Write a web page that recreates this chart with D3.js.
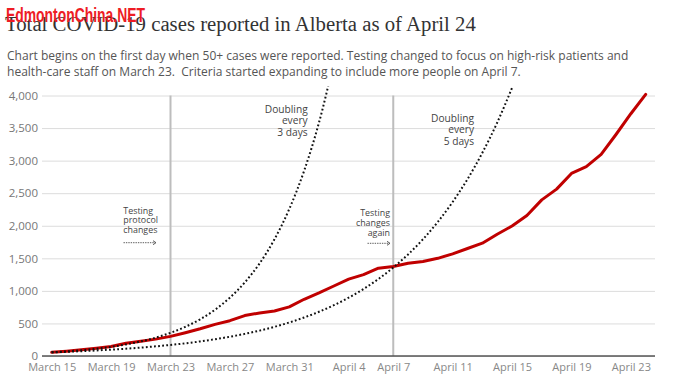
<!DOCTYPE html>
<html><head><meta charset="utf-8">
<script src="https://cdn.jsdelivr.net/npm/d3@7"></script>
<style>body{margin:0;background:#fff}svg{display:block}</style>
</head><body>
<svg id="c" width="673" height="392"></svg>
<script>
// ---- data ----
const startDate = "2020-03-15";
const endDate = "2020-04-24";
const cases = [56,74,97,119,146,195,226,259,301,358,419,486,542,621,661,690,754,
  871,968,1075,1181,1250,1348,1373,1423,1451,1500,1569,1651,1732,1870,1996,2158,2397,2562,2803,2908,3095,3401,3720,4017];
const double3 = [56,71,89,112,141,178,224,282,356,448,564,711,896,1129,1422,1792,2258,2845,3584,4516];
const double5 = [56,64,74,85,98,112,129,148,170,195,224,257,296,340,390,448,515,591,679,780,896,1029,1182,1358,1560,1792,2059,2365,2716,3120,3584,4117];
const yTicks = [0,500,1000,1500,2000,2500,3000,3500,4000];
const xTickDates = ["2020-03-15","2020-03-19","2020-03-23","2020-03-27","2020-03-31","2020-04-04","2020-04-07","2020-04-11","2020-04-15","2020-04-19","2020-04-23"];
const xTickLabels = ["March 15","March 19","March 23","March 27","March 31","April 4","April 7","April 11","April 15","April 19","April 23"];
const markerDates = ["2020-03-23","2020-04-07"];
const titleText = "Total COVID-19 cases reported in Alberta as of April 24";
const subtitleLines = ["Chart begins on the first day when 50+ cases were reported. Testing changed to focus on high-risk patients and",
  "health-care staff on March 23.  Criteria started expanding to include more people on April 7."];
const watermark = "EdmontonChina.NET";

// ---- setup ----
const parse = d3.utcParse("%Y-%m-%d");
const t0 = parse(startDate);
const day = i => d3.utcDay.offset(t0, i);
const svg = d3.select("#c");
const sans = "'Open Sans', 'Noto Sans', sans-serif";

const x = d3.scaleUtc().domain([t0, parse(endDate)]).range([51.7, 645.7]);
const y = d3.scaleLinear().domain([0, 4000]).range([356, 95.5]);
const gridX0 = 42, gridX1 = 655;

// title
const title = svg.append("text").attr("x", 5).attr("y", 31)
  .attr("font-family", "'Liberation Serif', 'DejaVu Serif', serif")
  .attr("font-size", 24).attr("fill", "#333").text(titleText);
let tw = title.node().getComputedTextLength();
title.attr("font-size", 24 * 471 / tw);

// watermark
svg.append("text").attr("x", 6).attr("y", 22)
  .attr("font-family", "'Liberation Sans Narrow', 'Liberation Sans', Arial, sans-serif")
  .attr("font-weight", "bold").attr("font-size", 21).attr("fill", "#ee1c25")
  .attr("textLength", 139).attr("lengthAdjust", "spacingAndGlyphs")
  .text(watermark);

// subtitle (keep the double space visible)
const keepSpaces = s => s.replace(/  /g, " \u00a0");
const sub = svg.append("g").attr("font-family", sans).attr("fill", "#555");
const s1 = sub.append("text").attr("x", 7).attr("y", 60).attr("font-size", 12.5).text(keepSpaces(subtitleLines[0]));
const sw = s1.node().getComputedTextLength();
const subSize = 12.5 * 622 / sw;
s1.attr("font-size", subSize);
sub.append("text").attr("x", 7).attr("y", 75.5).attr("font-size", subSize).text(keepSpaces(subtitleLines[1]));

// y grid + labels
const yAxis = svg.append("g").attr("transform", `translate(${gridX0},0)`)
  .call(d3.axisLeft(y).tickValues(yTicks).tickFormat(d3.format(",")).tickSize(-(gridX1 - gridX0)).tickPadding(4));
yAxis.select(".domain").remove();
yAxis.selectAll(".tick line").attr("stroke", "#dcdcdc").attr("stroke-width", 1);
yAxis.selectAll(".tick text").attr("fill", "#777").attr("font-family", sans).attr("font-size", 11.5);

// vertical marker lines
svg.append("g").selectAll("line").data(markerDates).join("line")
  .attr("x1", d => x(parse(d))).attr("x2", d => x(parse(d)))
  .attr("y1", y(0)).attr("y2", y(4000))
  .attr("stroke", "#bdbdbd").attr("stroke-width", 2);

// x axis
const xAxis = svg.append("g").attr("transform", `translate(0,${y(0)})`)
  .call(d3.axisBottom(x).tickValues(xTickDates.map(parse)).tickFormat((d, i) => xTickLabels[i]).tickSize(0).tickPadding(7.5));
xAxis.select(".domain").remove();
xAxis.selectAll(".tick text").attr("fill", "#888").attr("font-family", sans).attr("font-size", 11);
svg.append("line").attr("x1", gridX0).attr("x2", gridX1).attr("y1", y(0)).attr("y2", y(0))
  .attr("stroke", "#555").attr("stroke-width", 1.5);

// clip for doubling curves
svg.append("defs").append("clipPath").attr("id", "clipTop")
  .append("rect").attr("x", 0).attr("y", 86.5).attr("width", 673).attr("height", 300);

const smooth = d3.line().x((d, i) => x(day(i))).y(d => y(d)).curve(d3.curveMonotoneX);
const straight = d3.line().x((d, i) => x(day(i))).y(d => y(d));

// red cases line
svg.append("path").datum(cases).attr("d", straight)
  .attr("fill", "none").attr("stroke", "#c00000").attr("stroke-width", 3)
  .attr("stroke-linejoin", "round").attr("stroke-linecap", "round");

const dbl = svg.append("g").attr("clip-path", "url(#clipTop)");
[double3, double5].forEach(arr => {
  dbl.append("path").datum(arr).attr("d", smooth)
    .attr("fill", "none").attr("stroke", "#111").attr("stroke-width", 2)
    .attr("stroke-dasharray", "1.8,2.3");
});

// annotations
const ann = svg.append("g").attr("font-family", sans).attr("fill", "#444");
function block(lines, ax, ys, anchor, size) {
  lines.forEach((t, i) => ann.append("text").attr("x", ax).attr("y", ys[i]).attr("dy", "0.35em")
    .attr("text-anchor", anchor).attr("font-size", size).text(t));
}
block(["Doubling", "every", "3 days"], 307.7, [109.3, 120.5, 132], "end", 10.2);
block(["Doubling", "every", "5 days"], 474, [118, 129.5, 141], "end", 10.2);
block(["Testing", "protocol", "changes"], 123.3, [210.5, 220.2, 229.9], "start", 8.9);
block(["Testing", "changes", "again"], 390, [212.7, 223, 233.3], "end", 8.9);

function arrow(xa, xb, yy) {
  ann.append("line").attr("x1", xa).attr("x2", xb - 1).attr("y1", yy).attr("y2", yy)
    .attr("stroke", "#333").attr("stroke-width", 0.8).attr("stroke-dasharray", "1.4,1");
  ann.append("path").attr("d", `M${xb - 3},${yy - 2}L${xb},${yy}L${xb - 3},${yy + 2}`)
    .attr("fill", "none").attr("stroke", "#333").attr("stroke-width", 0.8);
}
arrow(123.5, 156, 242.7);
arrow(367.5, 390, 243.3);
</script>
</body></html>
